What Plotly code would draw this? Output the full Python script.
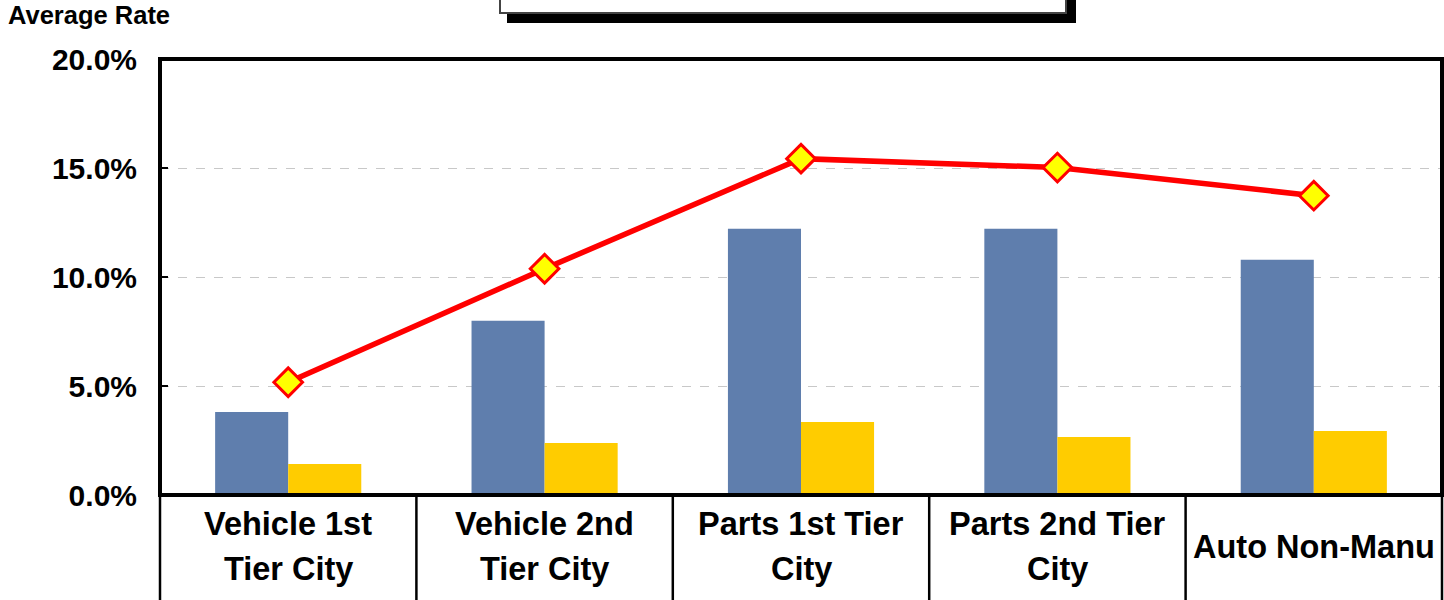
import plotly.graph_objects as go

# Category groups, each label split into the lines it is printed on
category_lines = [
    ["Vehicle 1st", "Tier City"],
    ["Vehicle 2nd", "Tier City"],
    ["Parts 1st Tier", "City"],
    ["Parts 2nd Tier", "City"],
    ["Auto Non-Manu"],
]
categories = [" ".join(lines) for lines in category_lines]

# Values in percent
blue_series = [3.81, 7.99, 12.21, 12.21, 10.79]
yellow_series = [1.42, 2.39, 3.35, 2.66, 2.94]
line_series = [5.17, 10.38, 15.43, 15.02, 13.73]

tick_values = [0, 5, 10, 15, 20]
tick_labels = ["0.0%", "5.0%", "10.0%", "15.0%", "20.0%"]

FONT = "Liberation Sans, Arial, sans-serif"
W, H = 1444, 600
ML, MR, MT, MB = 160, 2, 59, 105
PW, PH = W - ML - MR, H - MT - MB


def px_x(x):
    return (x - ML) / PW


def px_y(y):
    return (H - MB - y) / PH


fig = go.Figure()
fig.add_bar(x=categories, y=blue_series, marker=dict(color="#5F7EAD", line=dict(width=0)),
            showlegend=False)
fig.add_bar(x=categories, y=yellow_series, marker=dict(color="#FFCC00", line=dict(width=0)),
            showlegend=False)
fig.add_scatter(
    x=categories, y=line_series, mode="lines+markers",
    line=dict(color="#FF0000", width=5.5),
    marker=dict(symbol="diamond", size=22, color="#FFFF00",
                line=dict(color="#FF0000", width=3)),
    showlegend=False,
)

shapes = []
# frame around the plotting area
shapes.append(dict(type="rect", xref="paper", yref="paper", x0=0, x1=1, y0=0, y1=1,
                   line=dict(color="black", width=4), layer="above"))
# vertical dividers between category labels below the axis
for i in range(len(categories) + 1):
    xp = i / len(categories)
    shapes.append(dict(type="line", xref="paper", yref="paper", x0=xp, x1=xp,
                       y0=0, y1=px_y(H + 5), line=dict(color="black", width=2.5)))
# legend box (shadow and frame) at the top
shapes.append(dict(type="rect", xref="paper", yref="paper",
                   x0=px_x(507), x1=px_x(1076), y0=px_y(23), y1=px_y(-20),
                   fillcolor="black", line=dict(width=0)))
shapes.append(dict(type="rect", xref="paper", yref="paper",
                   x0=px_x(500), x1=px_x(1066), y0=px_y(13), y1=px_y(-20),
                   fillcolor="white", line=dict(color="#444444", width=2)))

annotations = []
for cat, lines in zip(categories, category_lines):
    if len(lines) == 1:
        centers = [547]
    else:
        centers = [524, 569]
    for text, yc in zip(lines, centers):
        annotations.append(dict(
            x=cat, xref="x", y=px_y(yc), yref="paper", text=f"<b>{text}</b>",
            showarrow=False, xanchor="center", yanchor="middle",
            font=dict(family=FONT, size=32.5, color="black"),
        ))
annotations.append(dict(
    x=px_x(6), xref="paper", y=px_y(-1), yref="paper", text="<b>Average Rate</b>",
    showarrow=False, xanchor="left", yanchor="top",
    font=dict(family=FONT, size=25.5, color="black"),
))

fig.update_layout(
    width=W, height=H,
    margin=dict(l=ML, r=MR, t=MT, b=MB, pad=0),
    paper_bgcolor="white", plot_bgcolor="white",
    barmode="group", bargap=0.43, bargroupgap=0,
    shapes=shapes, annotations=annotations,
    font=dict(family=FONT, color="black"),
)
fig.update_xaxes(showticklabels=False, ticks="", showgrid=False, zeroline=False,
                 showline=False)
fig.update_yaxes(
    range=[0, 20], tickvals=tick_values, ticktext=[f"<b>{t}</b>" for t in tick_labels],
    tickfont=dict(family=FONT, size=30, color="black"),
    ticks="inside", ticklen=8, tickwidth=2, tickcolor="black",
    ticklabelstandoff=22,
    showgrid=True, gridcolor="#C8C8C8", gridwidth=1, griddash="dash",
    zeroline=False, showline=False,
)

fig.write_html("out.html")
